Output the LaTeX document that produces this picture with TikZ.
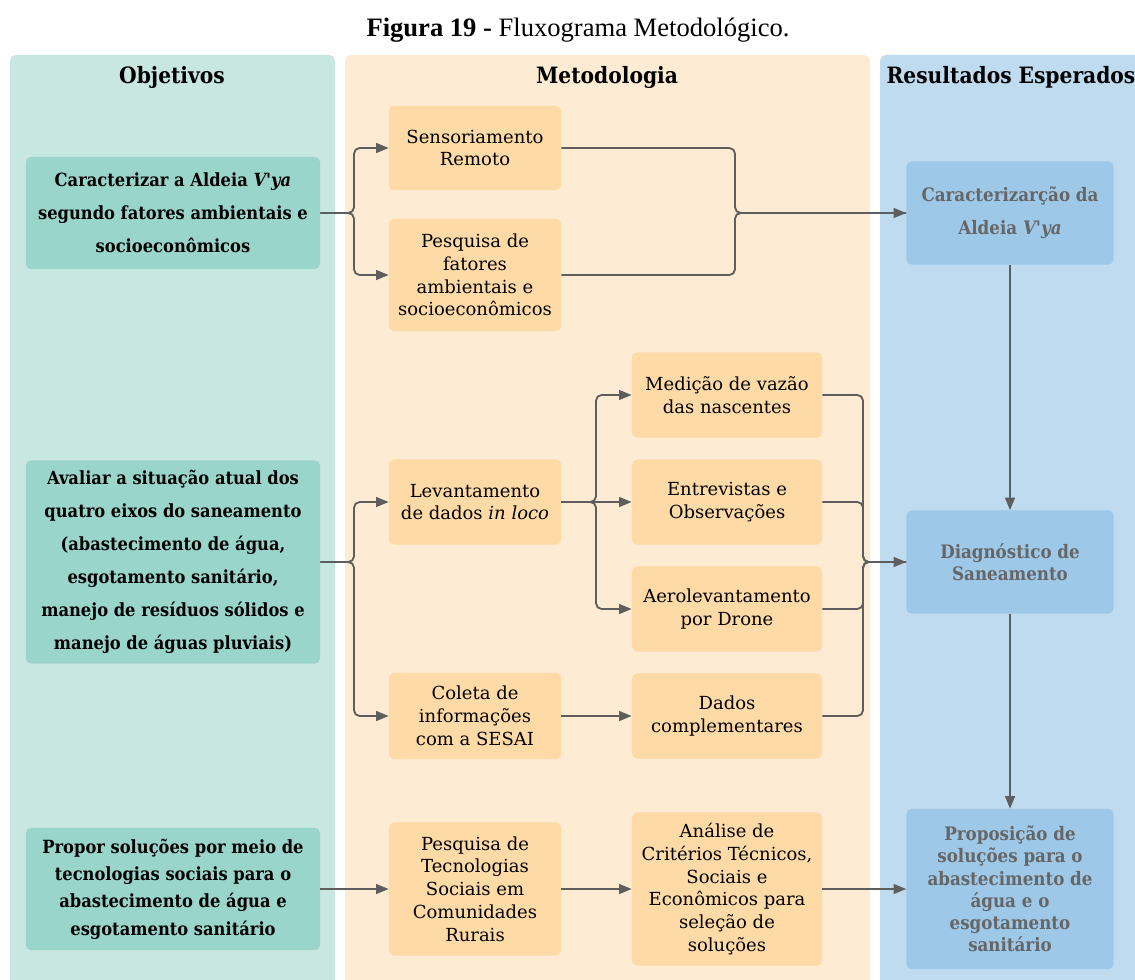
\documentclass[tikz,border=0pt]{standalone}
\usepackage{fontspec}
\setmainfont{DejaVu Serif}
\newfontfamily\cnd{DejaVu Serif Condensed}
\newfontfamily\tnr{Liberation Serif}
\usetikzlibrary{arrows.meta}

\definecolor{objbg}{HTML}{C8E7E1}
\definecolor{objfill}{HTML}{9AD5CB}
\definecolor{metbg}{HTML}{FDEBD3}
\definecolor{metfill}{HTML}{FEDAA6}
\definecolor{resbg}{HTML}{BEDBEF}
\definecolor{resfill}{HTML}{9DC8E8}
\definecolor{restext}{HTML}{666666}
\definecolor{linkcol}{HTML}{5E5E5E}

\begin{document}
\begin{tikzpicture}[x=0.025cm,y=-0.025cm,
  panel/.style={rounded corners=4pt},
  head/.style={font=\cnd\bfseries\fontsize{16}{18}\selectfont},
  box/.style={rounded corners=3.5pt, align=center, inner sep=2pt},
  objnode/.style={box, fill=objfill, minimum width=7.35cm,
    font=\cnd\bfseries\fontsize{12.9}{23.4}\selectfont},
  metnode/.style={box, fill=metfill, minimum width=4.3cm,
    font=\fontsize{12.8}{16.2}\selectfont},
  metwide/.style={box, fill=metfill, minimum width=4.75cm,
    font=\fontsize{12.8}{16.2}\selectfont},
  resnode/.style={box, fill=resfill, minimum width=5.175cm, text=restext,
    font=\cnd\bfseries\fontsize{13.2}{15.8}\selectfont},
  conn/.style={draw=linkcol, line width=1.3pt, rounded corners=4pt},
  arr/.style={conn, -{Triangle[length=9pt,width=7pt]}}
]
\useasboundingbox (0,0) rectangle (1135,979);
\clip (0,0) rectangle (1135,979);

% title
\node (title) at (578,30) {\tnr\fontsize{18.9}{20}\selectfont\textbf{Figura 19 -} Fluxograma Metodológico.};

% column panels
\fill[objbg, panel] (10,55) rectangle (335,1000);
\fill[metbg, panel] (345,55) rectangle (870,1000);
\fill[resbg, panel] (880,55) rectangle (1160,1000);

\node[head] (hobj) at (172,77) {Objetivos};
\node[head] (hmet) at (607,77) {Metodologia};
\node[head] (hres) at (1011,77) {Resultados Esperados};

% objectives
\node[objnode, minimum height=2.8cm] (O1) at (173,213)
  {Caracterizar a Aldeia \textit{V'ya}\\segundo fatores ambientais e\\socioeconômicos};
\node[objnode, minimum height=5.075cm] (O2) at (173,562)
  {Avaliar a situação atual dos\\quatro eixos do saneamento\\(abastecimento de água,\\esgotamento sanitário,\\manejo de resíduos sólidos e\\manejo de águas pluviais)};
\node[objnode, minimum height=3.05cm, font=\cnd\bfseries\fontsize{12.9}{19.4}\selectfont] (O3) at (173,889)
  {Propor soluções por meio de\\tecnologias sociais para o\\abastecimento de água e\\esgotamento sanitário};

% methodology
\node[metnode, minimum height=2.1cm] (M1) at (475,148) {Sensoriamento\\Remoto};
\node[metnode, minimum height=2.8cm] (M2) at (475,275) {Pesquisa de\\fatores\\ambientais e\\socioeconômicos};
\node[metnode, minimum height=2.125cm] (M3) at (475,502) {Levantamento\\de dados \textit{in loco}};
\node[metnode, minimum height=2.15cm] (M4) at (475,716) {Coleta de\\informações\\com a SESAI};
\node[metwide, minimum height=2.125cm] (M5) at (727,395) {Medição de vazão\\das nascentes};
\node[metwide, minimum height=2.125cm] (M6) at (727,502) {Entrevistas e\\Observações};
\node[metwide, minimum height=2.125cm] (M7) at (727,609) {Aerolevantamento\\por Drone};
\node[metwide, minimum height=2.125cm] (M8) at (727,716) {Dados\\complementares};
\node[metnode, minimum height=3.325cm] (M9) at (475,889) {Pesquisa de\\Tecnologias\\Sociais em\\Comunidades\\Rurais};
\node[metwide, minimum height=3.825cm] (M10) at (727,889) {Análise de\\Critérios Técnicos,\\Sociais e\\Econômicos para\\seleção de\\soluções};

% expected results
\node[resnode, minimum height=2.575cm, font=\cnd\bfseries\fontsize{13.2}{23.4}\selectfont] (R1) at (1010,213) {Caracterizarção da\\Aldeia \textit{V'ya}};
\node[resnode, minimum height=2.575cm] (R2) at (1010,562) {Diagnóstico de\\Saneamento};
\node[resnode, minimum height=4cm] (R3) at (1010,889) {Proposição de\\soluções para o\\abastecimento de\\água e o\\esgotamento\\sanitário};

% junction points
\coordinate (j1) at (354,213);
\coordinate (k1) at (735,213);
\coordinate (j2) at (354,562);
\coordinate (j3) at (596,502);
\coordinate (k2) at (863,562);

% first objective
\draw[arr] (O1.east) -- (j1) |- (M1.west);
\draw[arr] (O1.east) -- (j1) |- (M2.west);
\draw[conn] (M1.east) -| (k1) -- (R1.west);
\draw[arr] (M2.east) -| (k1) -- (R1.west);

% second objective
\draw[arr] (O2.east) -- (j2) |- (M3.west);
\draw[arr] (O2.east) -- (j2) |- (M4.west);
\draw[arr] (M3.east) -- (j3) |- (M5.west);
\draw[arr] (M3.east) -- (M6.west);
\draw[arr] (M3.east) -- (j3) |- (M7.west);
\draw[arr] (M4.east) -- (M8.west);
\draw[conn] (M5.east) -| (k2) -- (R2.west);
\draw[conn] (M6.east) -| (k2) -- (R2.west);
\draw[conn] (M7.east) -| (k2) -- (R2.west);
\draw[arr] (M8.east) -| (k2) -- (R2.west);

% third objective
\draw[arr] (O3.east) -- (M9.west);
\draw[arr] (M9.east) -- (M10.west);
\draw[arr] (M10.east) -- (R3.west);

% results chain
\draw[arr] (R1.south) -- (R2.north);
\draw[arr] (R2.south) -- (R3.north);
\end{tikzpicture}
\end{document}
